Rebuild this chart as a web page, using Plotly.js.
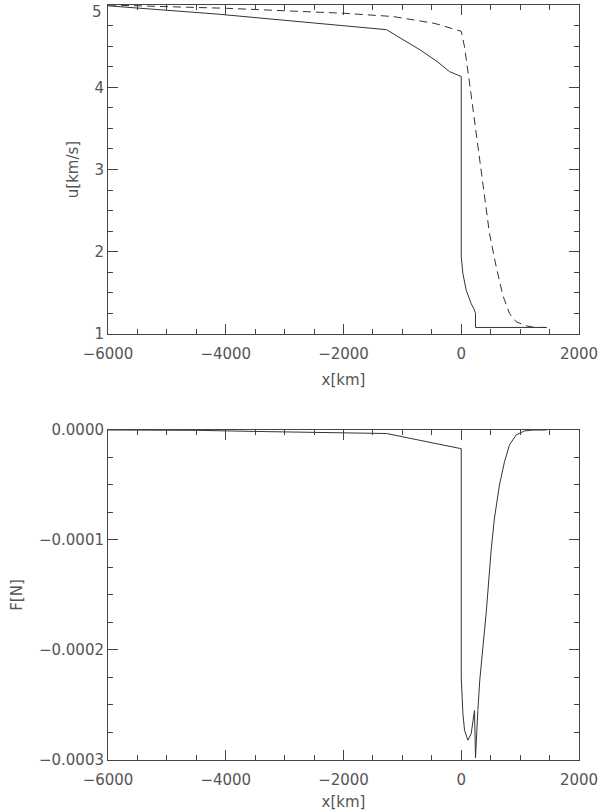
<!DOCTYPE html>
<html>
<head>
<meta charset="utf-8">
<script src="https://cdn.plot.ly/plotly-3.0.1.min.js"></script>
<style>
  html, body { margin: 0; padding: 0; background: #fff; }
  #plot { width: 600px; height: 811px; }
</style>
</head>
<body>
<div id="plot"></div>
<script>
// Velocity profiles (top panel)
const xSolidU = [-6000, -4150, -1270, -1200, -690, -405, -198, -65, 0, 0, 27, 85, 169, 225, 242, 242, 254, 1450];
const uSolid = [4.99, 4.89, 4.70, 4.67, 4.45, 4.31, 4.19, 4.15, 4.13, 1.94, 1.74, 1.53, 1.37, 1.29, 1.25, 1.08, 1.08, 1.08];

const xDashU = [-6000, -3986, -2012, -1159, -481, -368, 0, 56, 141, 254, 367, 480, 593, 706, 819, 932, 1102, 1250, 1450];
const uDash = [5.0, 4.96, 4.90, 4.86, 4.78, 4.76, 4.68, 4.49, 4.05, 3.44, 2.83, 2.22, 1.82, 1.47, 1.25, 1.15, 1.10, 1.08, 1.08];

// Force profile (bottom panel)
const xForce = [-6000, -4500, -3300, -1500, -1270, -29, 0, 0, 10, 28, 56, 113, 169, 200, 225, 242, 265, 282, 315, 350, 424, 510, 564, 649, 734, 819, 932, 1073, 1200, 1450];
const force = [0, -3e-7, -1.5e-6, -2.7e-6, -3.2e-6, -1.67e-5, -1.7e-5, -2.25e-4, -2.42e-4, -2.58e-4, -2.73e-4, -2.82e-4, -2.76e-4, -2.66e-4, -2.55e-4, -2.98e-4, -2.70e-4, -2.55e-4, -2.27e-4, -2.08e-4, -1.66e-4, -1.08e-4, -8.0e-5, -5.0e-5, -2.9e-5, -1.36e-5, -4.5e-6, -9e-7, -1e-7, 0];

// tick labels of the velocity axis (top one is placed by hand so it stays on the page)
const uTickVals = [1, 2, 3, 4, 5];
const uTickText = ['1', '2', '3', '4', ''];
const uTopLabel = '5';

const xRange = [-6000, 2000];
const uRange = [1, 5.0];
const fRange = [-0.0003, 0];

const lineColor = '#333';
const axisColor = '#444';
const textFont = { family: 'DejaVu Sans', size: 15, color: '#555' };

const traces = [
    {
        x: xDashU, y: uDash, xaxis: 'x', yaxis: 'y',
        type: 'scatter', mode: 'lines',
        line: { color: lineColor, width: 1, dash: '8px,5px' }
    },
    {
        x: xSolidU, y: uSolid, xaxis: 'x', yaxis: 'y',
        type: 'scatter', mode: 'lines',
        line: { color: lineColor, width: 1 }
    },
    {
        x: xForce, y: force, xaxis: 'x2', yaxis: 'y2',
        type: 'scatter', mode: 'lines',
        line: { color: lineColor, width: 1 }
    },
    // empty traces so the tick-only mirror axes get a subplot
    { x: [], y: [], xaxis: 'x3', yaxis: 'y3', type: 'scatter', mode: 'lines', hoverinfo: 'skip' },
    { x: [], y: [], xaxis: 'x4', yaxis: 'y4', type: 'scatter', mode: 'lines', hoverinfo: 'skip' }
];

// shared axis look (IDL-like boxed frame, inward ticks)
function axisStyle(extra) {
    return Object.assign({
        showline: true,
        linecolor: axisColor,
        linewidth: 1,
        mirror: true,
        ticks: 'inside',
        ticklen: 10,
        tickcolor: axisColor,
        showgrid: false,
        zeroline: false,
        tickfont: textFont,
        ticklabeloverflow: 'allow',
        fixedrange: true
    }, extra);
}

function minorTicks(step) {
    return { dtick: step, ticks: 'inside', ticklen: 5, tickcolor: axisColor };
}

// tick-only copies on the opposite sides (mirror does not repeat minor ticks)
function mirrorAxis(extra) {
    return Object.assign({
        visible: true,
        showline: false,
        ticks: 'inside',
        ticklen: 10,
        tickcolor: axisColor,
        showticklabels: false,
        showgrid: false,
        zeroline: false,
        fixedrange: true
    }, extra);
}

const layout = {
    width: 600,
    height: 811,
    showlegend: false,
    paper_bgcolor: '#fff',
    plot_bgcolor: '#fff',
    margin: { l: 108, r: 21, t: 5, b: 51 },
    font: textFont,
    xaxis: axisStyle({
        domain: [0, 1], anchor: 'y',
        range: xRange, dtick: 2000, tick0: 0,
        ticklabelstandoff: 6,
        minor: minorTicks(500),
        title: { text: 'x[km]', font: textFont, standoff: 12 }
    }),
    yaxis: axisStyle({
        domain: [0.5642, 1], anchor: 'x',
        range: uRange,
        tickmode: 'array', tickvals: uTickVals, ticktext: uTickText,
        minor: minorTicks(0.25),
        title: { text: 'u[km/s]', font: textFont, standoff: 12 }
    }),
    xaxis2: axisStyle({
        domain: [0, 1], anchor: 'y2',
        range: xRange, dtick: 2000, tick0: 0,
        ticklabelstandoff: 6,
        minor: minorTicks(500),
        title: { text: 'x[km]', font: textFont, standoff: 12 }
    }),
    yaxis2: axisStyle({
        domain: [0, 0.4371], anchor: 'x2',
        range: fRange, dtick: 0.0001, tick0: 0,
        tickformat: '.4f',
        minor: minorTicks(0.000025),
        title: { text: 'F[N]', font: textFont, standoff: 12 }
    }),
    xaxis3: mirrorAxis({
        overlaying: 'x', anchor: 'y3', side: 'top',
        range: xRange, dtick: 2000, tick0: 0, minor: minorTicks(500)
    }),
    yaxis3: mirrorAxis({
        overlaying: 'y', anchor: 'x3', side: 'right',
        range: uRange, dtick: 1, tick0: 0, minor: minorTicks(0.25)
    }),
    xaxis4: mirrorAxis({
        overlaying: 'x2', anchor: 'y4', side: 'top',
        range: xRange, dtick: 2000, tick0: 0, minor: minorTicks(500)
    }),
    yaxis4: mirrorAxis({
        overlaying: 'y2', anchor: 'x4', side: 'right',
        range: fRange, dtick: 0.0001, tick0: 0, minor: minorTicks(0.000025)
    }),
    annotations: [
        {
            text: uTopLabel, xref: 'paper', yref: 'y',
            x: 0, y: uTickVals[uTickVals.length - 1],
            xanchor: 'right', yanchor: 'middle',
            xshift: -4, yshift: -7,
            showarrow: false, font: textFont
        }
    ]
};

Plotly.newPlot('plot', traces, layout, { displayModeBar: false, staticPlot: true });
</script>
</body>
</html>
